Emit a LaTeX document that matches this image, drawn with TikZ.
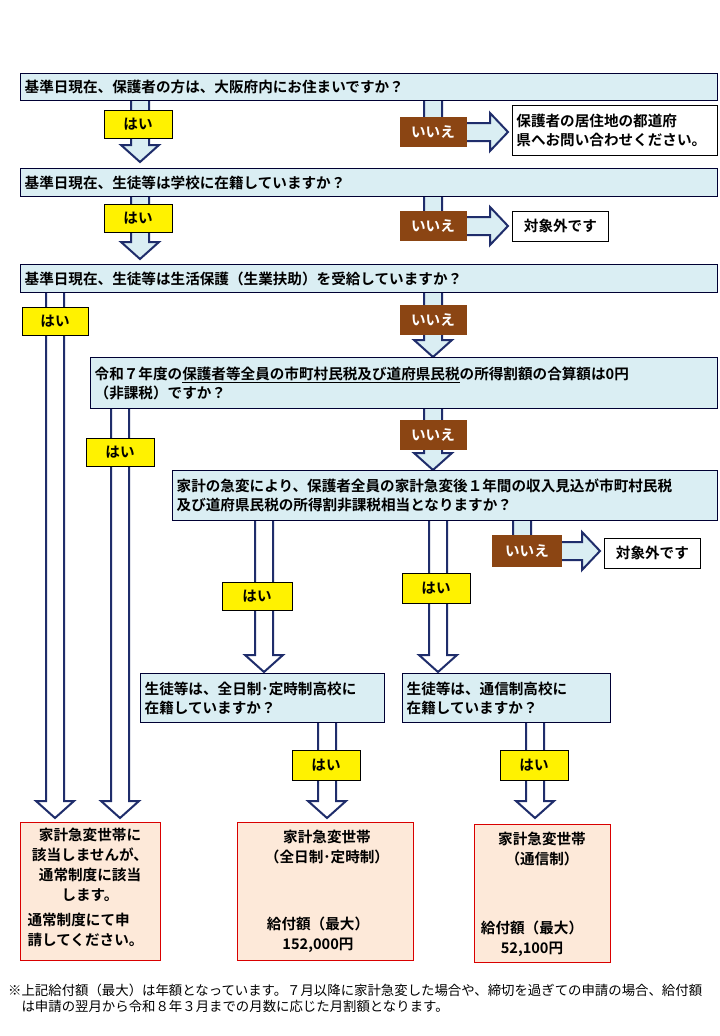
\documentclass[tikz,border=0pt]{standalone}
\usepackage{fontspec}
\setmainfont{Noto Sans CJK JP}[BoldFont={Noto Sans CJK JP Bold}]
\begin{document}
\begin{tikzpicture}[x=1pt,y=-1pt,
  q/.style={draw=black!80!blue,line width=1.3pt,fill=qblue,font=\bfseries\fontsize{14.6}{19}\selectfont,align=left,inner sep=4pt},
  yes/.style={draw=black,line width=0.8pt,fill=yellow,font=\bfseries\fontsize{14.6}{15}\selectfont,inner sep=0pt,minimum height=28pt},
  no/.style={fill=nobrown,text=white,font=\bfseries\fontsize{14.6}{15}\selectfont,inner sep=0pt,minimum height=30pt,minimum width=67pt},
  res/.style={draw=black,line width=0.8pt,fill=white,font=\bfseries\fontsize{14.6}{19}\selectfont,align=left,inner sep=4pt},
  fin/.style={draw=red!85!black,line width=1.3pt,fill=peach},
  ft/.style={font=\bfseries\fontsize{14.6}{20}\selectfont},
  barrow/.style={draw=navy,line width=2pt,line join=miter}]
\definecolor{qblue}{HTML}{DAEEF3}
\definecolor{nobrown}{HTML}{8B4513}
\definecolor{peach}{HTML}{FDE9D9}
\definecolor{navy}{HTML}{1F2D6B}
\useasboundingbox (0,0) rectangle (720,1036);
\fill[white] (0,0) rectangle (720,1036);
\newcommand\dArr[4]{\draw[barrow,fill=#4] (#1-9,#2) -- (#1-9,#3-17) -- (#1-19,#3-17) -- (#1,#3) -- (#1+19,#3-17) -- (#1+9,#3-17) -- (#1+9,#2);}
\newcommand\lArr[4]{\draw[barrow,fill=qblue] (#1-9,#2) -- (#1-9,#3+9) -- (#4-18,#3+9) -- (#4-18,#3+19) -- (#4,#3) -- (#4-18,#3-19) -- (#4-18,#3-9) -- (#1+9,#3-9) -- (#1+9,#2);}
% arrows
\dArr{140}{100}{162}{qblue}
\lArr{433}{100}{132}{508}
\dArr{140}{196}{259}{qblue}
\lArr{433}{196}{226}{508}
\dArr{55}{292}{818}{white}
\dArr{433}{292}{357}{qblue}
\dArr{120}{408}{818}{white}
\dArr{433}{408}{470}{qblue}
\dArr{264}{520}{672}{white}
\dArr{438}{520}{672}{white}
\lArr{522}{520}{551}{600}
\dArr{327}{722}{818}{white}
\dArr{535}{722}{818}{white}
% questions
\node[q,text width=689pt,minimum height=27pt,anchor=north west] (q1) at (20,73) {基準日現在、保護者の方は、大阪府内にお住まいですか？};
\node[q,text width=689pt,minimum height=28pt,anchor=north west] (q2) at (20,168) {基準日現在、生徒等は学校に在籍していますか？};
\node[q,text width=689pt,minimum height=28pt,anchor=north west] (q3) at (20,264) {基準日現在、生徒等は生活保護（生業扶助）を受給していますか？};
\node[q,text width=619pt,minimum height=51pt,anchor=north west] (q4) at (90,357) {令和７年度の\underline{保護者等全員の市町村民税及び道府県民税}の所得割額の合算額は0円\\（非課税）ですか？};
\node[q,text width=537pt,minimum height=50pt,anchor=north west] (q5) at (172,470) {家計の急変により、保護者全員の家計急変後１年間の収入見込が市町村民税\\及び道府県民税の所得割非課税相当となりますか？};
\node[q,text width=236pt,minimum height=49pt,anchor=north west] (q6) at (140,673) {生徒等は、全日制･定時制高校に\\在籍していますか？};
\node[q,text width=200pt,minimum height=49pt,anchor=north west] (q7) at (402,673) {生徒等は、通信制高校に\\在籍していますか？};
% yes / no labels
\node[yes,minimum width=68pt] (y1) at (138,124) {はい};
\node[no] (n1) at (433,132) {いいえ};
\node[res,text width=197pt,minimum height=50pt,anchor=north west] (r1) at (512,105) {保護者の居住地の都道府\\県へお問い合わせください。};
\node[yes,minimum width=68pt] (y2) at (138,218) {はい};
\node[no] (n2) at (433,226) {いいえ};
\node[res,minimum width=96pt,minimum height=30pt,anchor=north west] (r2) at (512,211) {対象外です};
\node[yes,minimum width=66pt] (y3) at (55,321) {はい};
\node[no] (n3) at (433,320) {いいえ};
\node[yes,minimum width=68pt] (y4) at (120,452) {はい};
\node[no] (n4) at (433,435) {いいえ};
\node[yes,minimum width=70pt] (y5) at (257,596) {はい};
\node[yes,minimum width=68pt,minimum height=30pt] (y6) at (436,588) {はい};
\node[no,minimum width=70pt,minimum height=32pt] (n5) at (527,551) {いいえ};
\node[res,minimum width=96pt,minimum height=30pt,anchor=north west] (r3) at (604,538) {対象外です};
\node[yes,minimum width=68pt,minimum height=30pt] (y7) at (326,765) {はい};
\node[yes,minimum width=68pt,minimum height=30pt] (y8) at (534,765) {はい};
% results
\node[fin,minimum width=140pt,minimum height=138pt,anchor=north west] (f1) at (20,822) {};
\node[ft,align=center,anchor=north] (t1) at (90,824) {家計急変世帯に\\該当しませんが、\\通常制度に該当\\します。};
\node[ft,align=left,anchor=north west] (t2) at (24,910) {通常制度にて申\\請してください。};
\node[fin,minimum width=176pt,minimum height=138pt,anchor=north west] (f2) at (237,822) {};
\node[ft,align=center,anchor=north] (t3) at (327,826) {家計急変世帯\\（全日制･定時制）};
\node[ft,align=center,anchor=north] (t4) at (318,913) {給付額（最大）\\152,000円};
\node[fin,minimum width=136pt,minimum height=138pt,anchor=north west] (f3) at (474,824) {};
\node[ft,align=center,anchor=north] (t5) at (542,828) {家計急変世帯\\（通信制）};
\node[ft,align=center,anchor=north] (t6) at (532,917) {給付額（最大）\\52,100円};
% footnote
\node[font=\fontsize{13.4}{16}\selectfont,align=left,anchor=north west,inner sep=0pt] (fn) at (8,984) {※上記給付額（最大）は年額となっています。７月以降に家計急変した場合や、締切を過ぎての申請の場合、給付額\\\hspace*{1em}は申請の翌月から令和８年３月までの月数に応じた月割額となります。};
\end{tikzpicture}
\end{document}
